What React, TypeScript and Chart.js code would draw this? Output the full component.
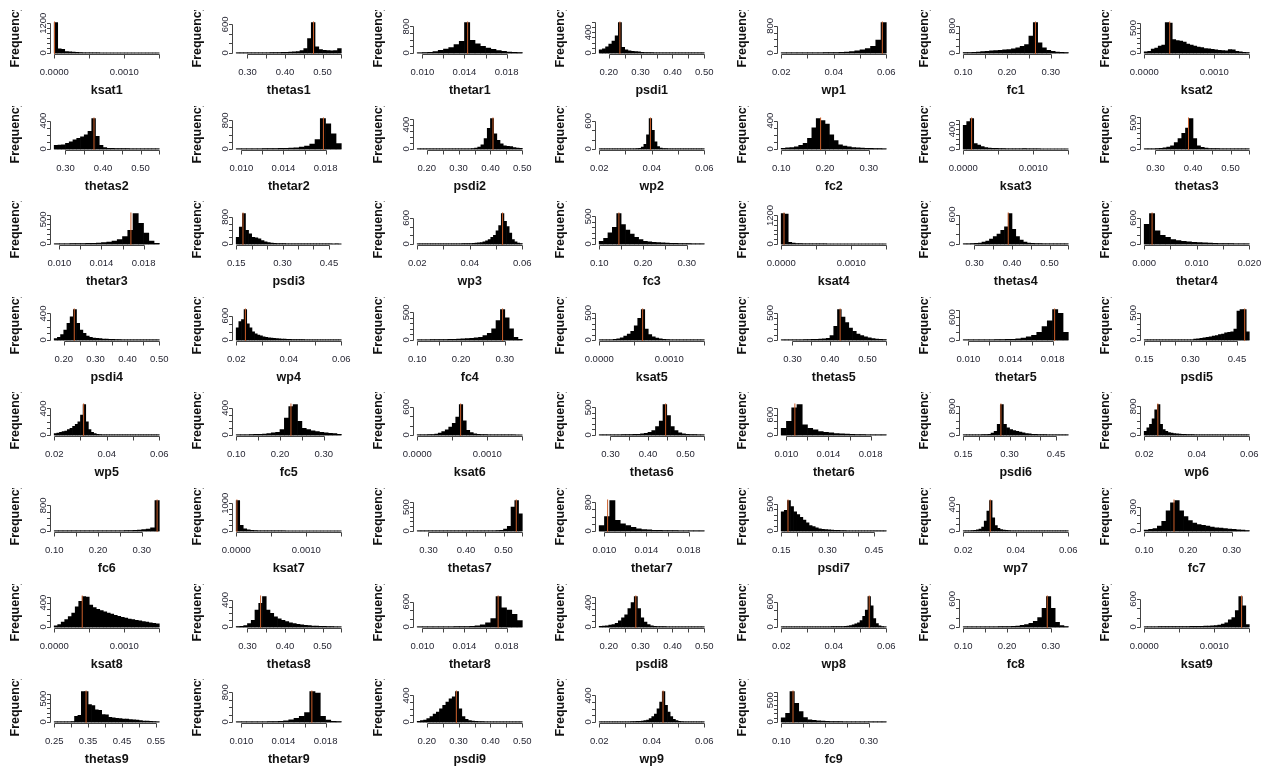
import React, { useEffect, useRef } from 'react';
import { Chart, registerables } from 'chart.js';

Chart.register(...registerables);

// ---------------- axis groups: break range, tick values, tick labels ----------------
const KSAT_RANGE = [0, 0.0015];
const KSAT_TICKS = [0, 0.0005, 0.001, 0.0015];
const KSAT_TICK_LABELS = ['0.0000', '', '0.0010', ''];

const THETAS_RANGE = [0.27, 0.55];
const THETAS_TICKS = [0.3, 0.35, 0.4, 0.45, 0.5, 0.55];
const THETAS_TICK_LABELS = ['0.30', '', '0.40', '', '0.50', ''];

const THETAS9_RANGE = [0.25, 0.56];
const THETAS9_TICKS = [0.25, 0.3, 0.35, 0.4, 0.45, 0.5, 0.55];
const THETAS9_TICK_LABELS = ['0.25', '', '0.35', '', '0.45', '', '0.55'];

const THETAR_RANGE = [0.0095, 0.0195];
const THETAR_TICKS = [0.01, 0.012, 0.014, 0.016, 0.018];
const THETAR_TICK_LABELS = ['0.010', '', '0.014', '', '0.018'];

const THETAR4_RANGE = [0, 0.02];
const THETAR4_TICKS = [0, 0.005, 0.01, 0.015, 0.02];
const THETAR4_TICK_LABELS = ['0.000', '', '0.010', '', '0.020'];

const PSDI_A_RANGE = [0.17, 0.5];
const PSDI_A_TICKS = [0.2, 0.25, 0.3, 0.35, 0.4, 0.45, 0.5];
const PSDI_A_TICK_LABELS = ['0.20', '', '0.30', '', '0.40', '', '0.50'];

const PSDI_B_RANGE = [0.15, 0.49];
const PSDI_B_TICKS = [0.15, 0.2, 0.25, 0.3, 0.35, 0.4, 0.45];
const PSDI_B_TICK_LABELS = ['0.15', '', '', '0.30', '', '', '0.45'];

const WP_RANGE = [0.02, 0.06];
const WP_TICKS = [0.02, 0.03, 0.04, 0.05, 0.06];
const WP_TICK_LABELS = ['0.02', '', '0.04', '', '0.06'];

const FC_RANGE = [0.1, 0.34];
const FC_TICKS = [0.1, 0.15, 0.2, 0.25, 0.3];
const FC_TICK_LABELS = ['0.10', '', '0.20', '', '0.30'];

const AXIS_GROUPS: Record<string, { range: number[]; ticks: number[]; labels: string[] }> = {
  ksat: { range: KSAT_RANGE, ticks: KSAT_TICKS, labels: KSAT_TICK_LABELS },
  thetas: { range: THETAS_RANGE, ticks: THETAS_TICKS, labels: THETAS_TICK_LABELS },
  thetas9: { range: THETAS9_RANGE, ticks: THETAS9_TICKS, labels: THETAS9_TICK_LABELS },
  thetar: { range: THETAR_RANGE, ticks: THETAR_TICKS, labels: THETAR_TICK_LABELS },
  thetar4: { range: THETAR4_RANGE, ticks: THETAR4_TICKS, labels: THETAR4_TICK_LABELS },
  psdiA: { range: PSDI_A_RANGE, ticks: PSDI_A_TICKS, labels: PSDI_A_TICK_LABELS },
  psdiB: { range: PSDI_B_RANGE, ticks: PSDI_B_TICKS, labels: PSDI_B_TICK_LABELS },
  wp: { range: WP_RANGE, ticks: WP_TICKS, labels: WP_TICK_LABELS },
  fc: { range: FC_RANGE, ticks: FC_TICKS, labels: FC_TICK_LABELS },
};

// ---------------- histogram counts (bins span the group's range evenly) ----------------
const ksat1 = [1230, 170, 150, 60, 50, 40, 30, 15, 8, 5, 3, 2, 2, 1, 1, 1, 1, 0, 0, 0, 0, 0, 0, 0, 0, 0, 0, 0, 0, 1];
const thetas1 = [2, 2, 2, 2, 3, 3, 3, 4, 5, 6, 8, 10, 12, 15, 20, 25, 30, 50, 90, 300, 640, 130, 70, 55, 50, 45, 50, 90];
const thetar1 = [5, 10, 20, 40, 80, 120, 160, 250, 350, 920, 380, 280, 200, 150, 110, 70, 50, 30, 20, 10];
const psdi1 = [60, 80, 120, 170, 230, 330, 590, 110, 60, 40, 30, 25, 20, 15, 10, 8, 6, 5, 5, 4, 4, 3, 3, 3, 2, 2, 2, 2, 2, 1, 1, 1, 1];
const wp1 = [5, 3, 3, 3, 4, 5, 8, 8, 10, 12, 15, 20, 25, 40, 60, 90, 130, 200, 380, 900];
const fc1 = [10, 15, 20, 30, 40, 50, 60, 70, 80, 90, 100, 120, 150, 200, 250, 500, 900, 300, 150, 80, 50, 30, 20, 10];
const ksat2 = [25, 35, 80, 100, 140, 160, 610, 600, 270, 250, 240, 220, 180, 160, 140, 120, 110, 90, 85, 75, 65, 55, 50, 45, 70, 65, 35, 25, 15, 10];

const thetas2 = [50, 55, 60, 80, 100, 130, 150, 170, 200, 250, 430, 180, 50, 20, 10, 8, 6, 5, 4, 4, 3, 3, 2, 2, 2, 2, 1, 1];
const thetar2 = [3, 3, 4, 5, 6, 8, 10, 12, 15, 20, 25, 35, 50, 80, 140, 260, 850, 700, 420, 150];
const psdi2 = [1, 1, 1, 1, 1, 1, 1, 1, 1, 1, 1, 1, 1, 2, 2, 3, 4, 5, 15, 30, 70, 170, 340, 500, 250, 140, 85, 50, 45, 40, 25, 15, 10];
const wp2 = [1, 1, 1, 1, 1, 1, 1, 2, 2, 2, 3, 3, 4, 5, 8, 15, 40, 100, 300, 650, 400, 150, 50, 20, 10, 6, 4, 3, 2, 2, 1, 1, 1, 1, 1, 1, 1, 1, 1, 1];
const fc2 = [10, 15, 20, 30, 50, 80, 150, 300, 430, 400, 350, 200, 120, 60, 40, 30, 20, 15, 12, 10, 8, 6, 4, 3];
const ksat3 = [480, 560, 620, 110, 80, 50, 30, 20, 15, 15, 8, 6, 5, 4, 3, 3, 2, 10, 2, 1, 1, 1, 0, 0, 0, 0, 0, 0, 0, 0];
const thetas3 = [2, 3, 5, 8, 12, 20, 35, 60, 120, 200, 300, 400, 580, 200, 60, 30, 15, 10, 8, 6, 5, 4, 3, 3, 2, 2, 2, 2];

const thetar3 = [3, 4, 5, 6, 8, 10, 12, 15, 20, 30, 40, 60, 90, 150, 280, 620, 420, 220, 60, 15];
const psdi3 = [200, 500, 900, 400, 300, 200, 180, 150, 100, 60, 40, 30, 20, 15, 12, 10, 8, 6, 5, 4, 3, 3, 2, 2, 2, 1, 1, 1, 1, 1, 1, 0, 1, 0];
const wp3 = [1, 1, 1, 1, 1, 2, 2, 2, 2, 3, 3, 3, 4, 4, 5, 5, 6, 7, 8, 10, 12, 15, 20, 25, 35, 50, 70, 100, 150, 200, 300, 420, 700, 520, 400, 250, 100, 50, 20, 8];
const fc3 = [50, 100, 200, 300, 550, 350, 250, 180, 120, 80, 50, 40, 30, 25, 20, 15, 12, 10, 8, 6, 5, 4, 3, 2];
const ksat4 = [1280, 1260, 70, 35, 20, 12, 8, 6, 5, 4, 3, 2, 2, 1, 1, 1, 0, 0, 0, 0, 0, 0, 0, 0, 0, 0, 0, 0, 0, 0];
const thetas4 = [3, 5, 8, 12, 20, 40, 60, 100, 150, 200, 280, 350, 620, 300, 150, 80, 40, 20, 12, 8, 6, 5, 4, 3, 3, 2, 2, 2];
const thetar4 = [450, 700, 300, 200, 150, 100, 80, 60, 50, 40, 30, 25, 20, 15, 12, 10, 8, 6, 4, 3];

const psdi4 = [20, 40, 80, 150, 250, 350, 460, 250, 150, 100, 60, 40, 30, 25, 20, 15, 12, 10, 8, 6, 5, 4, 4, 3, 3, 2, 2, 2, 2, 1, 1, 1, 1];
const wp4 = [300, 450, 500, 750, 400, 300, 200, 150, 120, 100, 80, 65, 55, 45, 40, 35, 30, 25, 20, 18, 15, 12, 10, 9, 8, 7, 6, 5, 5, 4, 4, 3, 3, 3, 2, 2, 2, 1, 1, 1];
const fc4 = [3, 3, 4, 5, 5, 6, 8, 10, 12, 15, 20, 25, 30, 40, 50, 80, 120, 200, 350, 550, 400, 200, 50, 10];
const ksat5 = [3, 3, 4, 5, 10, 20, 40, 70, 110, 160, 260, 400, 560, 200, 100, 60, 35, 20, 12, 8, 5, 4, 3, 2, 2, 1, 1, 1, 1, 1];
const thetas5 = [2, 2, 3, 3, 4, 5, 6, 8, 10, 12, 15, 20, 30, 80, 250, 560, 420, 320, 220, 160, 110, 80, 60, 40, 28, 18, 12, 8];
const thetar5 = [2, 3, 3, 4, 5, 6, 8, 10, 15, 20, 30, 50, 80, 120, 200, 350, 500, 800, 700, 200];
const psdi5 = [1, 1, 1, 1, 1, 1, 1, 1, 1, 1, 1, 1, 1, 1, 1, 1, 15, 20, 30, 40, 50, 60, 70, 80, 100, 110, 130, 140, 150, 200, 530, 560, 560, 150];

const wp5 = [20, 30, 40, 50, 60, 80, 100, 130, 160, 200, 300, 460, 200, 80, 40, 20, 10, 6, 4, 3, 2, 2, 2, 1, 1, 1, 1, 1, 1, 1, 1, 1, 1, 1, 1, 1, 1, 1, 1, 1];
const fc5 = [3, 3, 4, 5, 8, 10, 15, 20, 30, 40, 80, 250, 420, 450, 200, 100, 80, 60, 50, 40, 30, 25, 20, 10];
const ksat6 = [2, 3, 4, 6, 10, 20, 40, 70, 110, 170, 250, 380, 650, 300, 100, 50, 25, 15, 10, 6, 4, 3, 2, 2, 1, 1, 1, 1, 0, 0];
const thetas6 = [2, 2, 2, 3, 3, 4, 5, 6, 8, 10, 12, 20, 30, 50, 80, 150, 250, 550, 350, 150, 80, 40, 20, 12, 8, 5, 3, 2];
const thetar6 = [200, 400, 800, 900, 300, 200, 150, 100, 80, 60, 45, 35, 25, 20, 15, 10, 8, 6, 4, 3];
const psdi6 = [1, 1, 2, 2, 3, 5, 8, 12, 20, 50, 100, 300, 850, 300, 200, 150, 120, 100, 80, 60, 40, 30, 20, 15, 12, 10, 8, 6, 5, 4, 3, 2, 2, 1];
const wp6 = [100, 200, 300, 450, 700, 850, 300, 150, 100, 70, 50, 40, 30, 25, 20, 15, 12, 10, 8, 6, 5, 4, 4, 3, 3, 2, 2, 2, 2, 1, 1, 1, 1, 1, 1, 1, 1, 1, 1, 1];

const fc6 = [1, 1, 1, 1, 1, 1, 1, 2, 2, 2, 3, 3, 4, 5, 6, 8, 10, 15, 20, 30, 40, 60, 100, 950];
const ksat7 = [1100, 200, 80, 40, 20, 10, 6, 4, 3, 2, 2, 1, 1, 1, 0, 0, 0, 0, 0, 0, 0, 0, 0, 0, 0, 0, 0, 0, 0, 0];
const thetas7 = [1, 1, 1, 1, 1, 1, 1, 1, 1, 1, 1, 1, 1, 1, 1, 2, 2, 2, 3, 3, 4, 6, 15, 40, 100, 500, 640, 360];
const thetar7 = [150, 400, 850, 300, 200, 150, 100, 60, 40, 30, 20, 15, 12, 10, 8, 6, 5, 4, 3, 2];
const psdi7 = [350, 380, 560, 450, 350, 300, 250, 200, 150, 100, 80, 60, 40, 30, 25, 20, 15, 12, 10, 8, 6, 5, 4, 3, 3, 2, 2, 2, 1, 1, 1, 1, 1, 1];
const wp7 = [2, 3, 4, 6, 10, 18, 30, 60, 150, 300, 460, 200, 80, 40, 20, 12, 8, 5, 4, 3, 2, 2, 2, 1, 1, 1, 1, 1, 1, 1, 1, 1, 1, 1, 1, 1, 1, 1, 1, 1];
const fc7 = [10, 20, 30, 60, 120, 250, 350, 380, 250, 180, 130, 100, 80, 70, 60, 50, 40, 35, 30, 25, 20, 15, 10, 5];

const ksat8 = [20, 40, 80, 120, 170, 230, 330, 420, 500, 490, 360, 320, 290, 270, 250, 230, 210, 190, 175, 160, 145, 130, 120, 110, 100, 90, 80, 70, 60, 50];
const thetas8 = [5, 10, 20, 50, 100, 250, 350, 450, 250, 200, 150, 120, 100, 80, 60, 50, 40, 30, 25, 20, 15, 12, 10, 8, 6, 5, 4, 3];
const thetar8 = [2, 2, 3, 3, 4, 5, 6, 8, 10, 12, 15, 30, 50, 100, 200, 720, 450, 400, 300, 150];
const psdi8 = [10, 15, 20, 30, 40, 60, 100, 150, 200, 300, 400, 500, 300, 150, 80, 40, 20, 12, 8, 6, 5, 4, 3, 3, 2, 2, 2, 1, 1, 1, 1, 1, 1];
const wp8 = [1, 1, 1, 1, 1, 1, 1, 2, 2, 2, 2, 3, 3, 3, 4, 4, 5, 5, 6, 7, 8, 9, 10, 12, 15, 20, 35, 50, 75, 100, 150, 250, 400, 720, 500, 200, 80, 30, 10, 5];
const fc8 = [1, 1, 2, 2, 3, 3, 4, 5, 6, 8, 10, 12, 20, 35, 50, 80, 120, 200, 400, 650, 400, 100, 30, 10];
const ksat9 = [5, 5, 5, 5, 6, 6, 7, 7, 8, 8, 9, 10, 10, 12, 12, 14, 15, 18, 20, 25, 30, 40, 60, 90, 150, 200, 350, 650, 450, 50];

const thetas9 = [1, 1, 2, 2, 3, 8, 120, 140, 650, 650, 370, 350, 260, 250, 160, 150, 100, 90, 80, 70, 60, 60, 50, 45, 40, 30, 20, 18, 12, 10, 5];
const thetar9 = [2, 2, 3, 3, 4, 5, 8, 10, 20, 30, 60, 100, 150, 250, 820, 780, 150, 50, 20, 8];
const psdi9 = [10, 20, 30, 50, 80, 120, 150, 200, 250, 300, 350, 380, 460, 200, 80, 40, 20, 12, 8, 6, 5, 4, 3, 3, 2, 2, 2, 1, 1, 1, 1, 1, 1];
const wp9 = [1, 1, 1, 1, 1, 1, 2, 2, 2, 3, 3, 4, 5, 6, 8, 10, 15, 20, 30, 50, 80, 120, 200, 300, 460, 250, 150, 80, 40, 20, 10, 6, 4, 3, 2, 2, 1, 1, 1, 1];
const fc9 = [95, 200, 700, 430, 240, 100, 50, 40, 25, 20, 15, 12, 12, 8, 5, 4, 3, 3, 2, 2, 2, 1, 1, 2];

// ---------------- panels (row-major) ----------------
const PANEL_NAMES = [
  'ksat1', 'thetas1', 'thetar1', 'psdi1', 'wp1', 'fc1', 'ksat2',
  'thetas2', 'thetar2', 'psdi2', 'wp2', 'fc2', 'ksat3', 'thetas3',
  'thetar3', 'psdi3', 'wp3', 'fc3', 'ksat4', 'thetas4', 'thetar4',
  'psdi4', 'wp4', 'fc4', 'ksat5', 'thetas5', 'thetar5', 'psdi5',
  'wp5', 'fc5', 'ksat6', 'thetas6', 'thetar6', 'psdi6', 'wp6',
  'fc6', 'ksat7', 'thetas7', 'thetar7', 'psdi7', 'wp7', 'fc7',
  'ksat8', 'thetas8', 'thetar8', 'psdi8', 'wp8', 'fc8', 'ksat9',
  'thetas9', 'thetar9', 'psdi9', 'wp9', 'fc9',
];

const PANEL_GROUPS = [
  'ksat', 'thetas', 'thetar', 'psdiA', 'wp', 'fc', 'ksat',
  'thetas', 'thetar', 'psdiA', 'wp', 'fc', 'ksat', 'thetas',
  'thetar', 'psdiB', 'wp', 'fc', 'ksat', 'thetas', 'thetar4',
  'psdiA', 'wp', 'fc', 'ksat', 'thetas', 'thetar', 'psdiB',
  'wp', 'fc', 'ksat', 'thetas', 'thetar', 'psdiB', 'wp',
  'fc', 'ksat', 'thetas', 'thetar', 'psdiB', 'wp', 'fc',
  'ksat', 'thetas', 'thetar', 'psdiA', 'wp', 'fc', 'ksat',
  'thetas9', 'thetar', 'psdiA', 'wp', 'fc',
];

const PANEL_COUNTS = [
  ksat1, thetas1, thetar1, psdi1, wp1, fc1, ksat2,
  thetas2, thetar2, psdi2, wp2, fc2, ksat3, thetas3,
  thetar3, psdi3, wp3, fc3, ksat4, thetas4, thetar4,
  psdi4, wp4, fc4, ksat5, thetas5, thetar5, psdi5,
  wp5, fc5, ksat6, thetas6, thetar6, psdi6, wp6,
  fc6, ksat7, thetas7, thetar7, psdi7, wp7, fc7,
  ksat8, thetas8, thetar8, psdi8, wp8, fc8, ksat9,
  thetas9, thetar9, psdi9, wp9, fc9,
];

// value marked by the vertical line in each panel
const PANEL_MARKERS = [
  0.000005, 0.476, 0.0143, 0.235, 0.0585, 0.265, 0.000364,
  0.376, 0.0178, 0.408, 0.0395, 0.19, 0.00012, 0.388,
  0.0168, 0.172, 0.0525, 0.145, 0.00004, 0.39, 0.0015,
  0.233, 0.0235, 0.295, 0.00062, 0.427, 0.0182, 0.475,
  0.0312, 0.225, 0.00062, 0.447, 0.0108, 0.272, 0.0252,
  0.335, 0.00001, 0.534, 0.0103, 0.172, 0.0303, 0.168,
  0.0004, 0.335, 0.0172, 0.285, 0.0535, 0.292, 0.00139,
  0.344, 0.0167, 0.293, 0.0443, 0.127,
];

// labelled (non-zero) frequency tick in each panel
const PANEL_Y_LABELS = [
  1200, 600, 800, 400, 800, 800, 500,
  400, 800, 400, 600, 400, 400, 500,
  500, 800, 600, 500, 1200, 600, 600,
  400, 600, 500, 500, 500, 600, 500,
  400, 400, 600, 500, 600, 800, 800,
  800, 1000, 500, 800, 500, 400, 300,
  400, 400, 600, 400, 600, 600, 600,
  500, 800, 400, 400, 500,
];

// ---------------- layout & style ----------------
const COLS = 7;
const COL_PITCH = 1272 / 7;
const ROW_PITCH = 95.6;
const CLIP = 10; // figure-region top (relative to panel) where margin text is clipped
const PANEL_W = 182;
const PANEL_H = 96;
const PLOT_LEFT = 50;
const PLOT_RIGHT = 163.5;
const PLOT_TOP = 21.3;
const PLOT_BOTTOM = 54.2;
const X_TICK_LEN = 4;
const Y_TICK_LEN = 3.5;
const XLAB_BASE = 75;
const XTITLE_BASE = 94;
const YLAB_BASE_X = 46.3;
const YTITLE_BASE_X = 19;
const YTITLE_CENTER = 35.9;

const AXIS_COLOR = '#444';
const ZERO_COLOR = '#666';
const MARK_COLOR = '#cc5f2a';
const TICK_COLOR = '#262633';
const TITLE_COLOR = '#111';
const TICK_FONT = '9.5px "Liberation Sans", Arial, sans-serif';
const TITLE_FONT = 'bold 12.5px "Liberation Sans", Arial, sans-serif';

function makeAxisPlugin(title: string, xTicks: number[], xLabels: string[], yTicks: number[], yLabel: number) {
  return {
    id: 'rAxes',
    afterDraw(chart: any) {
      const { ctx, chartArea } = chart;
      const xs = chart.scales.x;
      const ys = chart.scales.y;
      const cy = (v: number) => v - CLIP;
      ctx.save();
      ctx.strokeStyle = AXIS_COLOR;
      ctx.lineWidth = 1;
      const axisY = Math.round(chartArea.bottom) + 0.5;
      const xPix = xTicks.map((t) => xs.getPixelForValue(t));
      ctx.beginPath();
      ctx.moveTo(Math.round(xPix[0]) + 0.5, axisY);
      ctx.lineTo(Math.round(xPix[xPix.length - 1]) + 0.5, axisY);
      for (const p of xPix) {
        const px = Math.round(p) + 0.5;
        ctx.moveTo(px, axisY);
        ctx.lineTo(px, axisY + X_TICK_LEN);
      }
      const axisX = Math.round(chartArea.left) + 0.5;
      const yPix = yTicks.map((t) => ys.getPixelForValue(t));
      ctx.moveTo(axisX, Math.round(yPix[0]) + 0.5);
      ctx.lineTo(axisX, Math.round(yPix[yPix.length - 1]) + 0.5);
      for (const p of yPix) {
        const py = Math.round(p) + 0.5;
        ctx.moveTo(axisX, py);
        ctx.lineTo(axisX - Y_TICK_LEN, py);
      }
      ctx.stroke();

      ctx.fillStyle = TICK_COLOR;
      ctx.font = TICK_FONT;
      ctx.textAlign = 'center';
      ctx.textBaseline = 'alphabetic';
      xLabels.forEach((lab, k) => {
        if (lab) ctx.fillText(lab, xPix[k], cy(XLAB_BASE));
      });
      yTicks.forEach((t, k) => {
        if (t === 0 || t === yLabel) {
          ctx.save();
          ctx.translate(YLAB_BASE_X, yPix[k]);
          ctx.rotate(-Math.PI / 2);
          ctx.fillText(String(t), 0, 0);
          ctx.restore();
        }
      });

      ctx.fillStyle = TITLE_COLOR;
      ctx.font = TITLE_FONT;
      ctx.fillText(title, (chartArea.left + chartArea.right) / 2, cy(XTITLE_BASE));
      ctx.save();
      ctx.translate(YTITLE_BASE_X, cy(YTITLE_CENTER));
      ctx.rotate(-Math.PI / 2);
      ctx.fillText('Frequency', 0, 0);
      ctx.restore();
      ctx.restore();
    },
  };
}

function buildConfig(i: number): any {
  const title = PANEL_NAMES[i];
  const counts = PANEL_COUNTS[i];
  const grp = AXIS_GROUPS[PANEL_GROUPS[i]];
  const lo = grp.range[0];
  const hi = grp.range[1];
  const bw = (hi - lo) / counts.length;
  const ymax = Math.max(...counts);
  const yLo = -0.04 * ymax;
  const yHi = 1.04 * ymax;
  const xPad = 0.04 * (hi - lo);
  const yLabel = PANEL_Y_LABELS[i];
  const yStep = yLabel >= 600 ? 200 : 100;
  const yTicks: number[] = [];
  for (let t = 0; t <= yHi + 1e-9; t += yStep) yTicks.push(t);
  const mark = PANEL_MARKERS[i];

  return {
    type: 'bar',
    data: {
      datasets: [
        {
          type: 'line',
          data: [{ x: lo, y: 0 }, { x: hi, y: 0 }],
          borderColor: ZERO_COLOR,
          borderWidth: 1,
          pointRadius: 0,
          order: 3,
        },
        {
          type: 'bar',
          data: counts.map((c, k) => ({ x: lo + (k + 0.5) * bw, y: c })),
          backgroundColor: '#000',
          borderWidth: 0,
          barPercentage: 1,
          categoryPercentage: 1,
          order: 2,
        },
        {
          type: 'line',
          data: [{ x: mark, y: yLo }, { x: mark, y: yHi }],
          borderColor: MARK_COLOR,
          borderWidth: 1,
          pointRadius: 0,
          order: 0,
        },
      ],
    },
    options: {
      animation: false,
      responsive: false,
      maintainAspectRatio: false,
      devicePixelRatio: 1,
      events: [],
      layout: {
        padding: {
          left: PLOT_LEFT,
          right: PANEL_W - PLOT_RIGHT,
          top: PLOT_TOP - CLIP,
          bottom: PANEL_H - (PLOT_BOTTOM - CLIP),
        },
      },
      plugins: {
        legend: { display: false },
        tooltip: { enabled: false },
        title: { display: false },
      },
      scales: {
        x: {
          type: 'linear',
          min: lo - xPad,
          max: hi + xPad,
          offset: false,
          display: false,
          ticks: { count: 2 },
        },
        y: {
          type: 'linear',
          min: yLo,
          max: yHi,
          display: false,
          ticks: { count: 2 },
        },
      },
    },
    plugins: [makeAxisPlugin(title, grp.ticks, grp.labels, yTicks, yLabel)],
  };
}

function Panel({ index }: { index: number }) {
  const ref = useRef<HTMLCanvasElement>(null);
  useEffect(() => {
    if (!ref.current) return;
    const chart = new Chart(ref.current, buildConfig(index));
    return () => chart.destroy();
  }, [index]);
  const col = index % COLS;
  const row = Math.floor(index / COLS);
  return (
    <canvas
      ref={ref}
      width={PANEL_W}
      height={PANEL_H}
      style={{
        position: 'absolute',
        left: Math.round(col * COL_PITCH),
        top: Math.round(row * ROW_PITCH + CLIP),
        width: PANEL_W,
        height: PANEL_H,
      }}
    />
  );
}

export default function App() {
  return (
    <div
      style={{
        position: 'fixed',
        left: 0,
        top: 0,
        width: 1272,
        height: 769,
        overflow: 'hidden',
        background: '#fff',
      }}
    >
      {PANEL_NAMES.map((_, i) => (
        <Panel key={i} index={i} />
      ))}
    </div>
  );
}
